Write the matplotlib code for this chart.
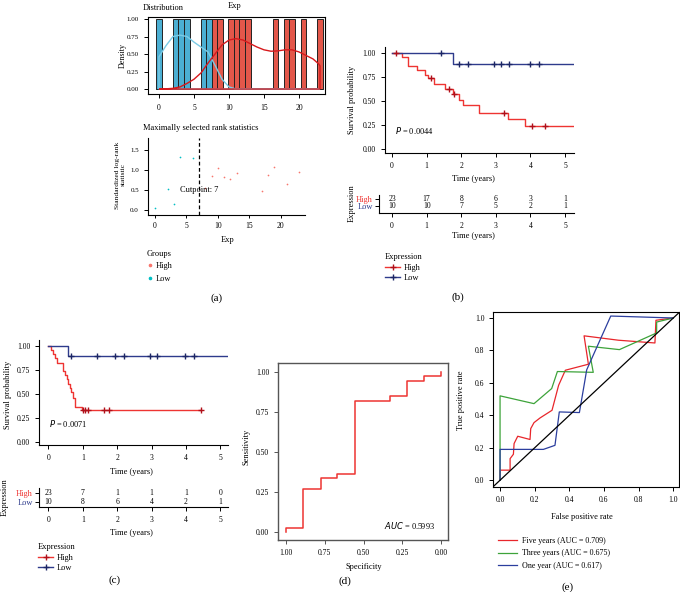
import numpy as np
import matplotlib
matplotlib.use('Agg')
import matplotlib.pyplot as plt
from matplotlib.lines import Line2D

plt.rcParams['font.family'] = ['Liberation Serif', 'DejaVu Serif']
plt.rcParams['axes.linewidth'] = 0.8
plt.rcParams['xtick.major.width'] = 0.7
plt.rcParams['ytick.major.width'] = 0.7
plt.rcParams['xtick.major.size'] = 2.5
plt.rcParams['ytick.major.size'] = 2.5
plt.rcParams['xtick.labelsize'] = 5.5
plt.rcParams['ytick.labelsize'] = 5.5
plt.rcParams['xtick.major.pad'] = 2.5
plt.rcParams['ytick.major.pad'] = 2.5

# ---------------- data ----------------
# (a) distribution / maxstat
exp_low = [0, 2, 3, 4, 6, 7]
exp_high = [8, 9, 10, 11, 12, 13, 17, 18, 19, 21, 23]
dens_x = [0, 1, 2, 3, 4, 5, 6, 7, 8, 9, 10, 11, 12, 13, 14, 15, 16, 17, 18, 19, 20, 21, 22, 22.8, 23]
dens_low = [0.46, 0.62, 0.75, 0.77, 0.75, 0.67, 0.60, 0.53, 0.34, 0.14, 0.03, 0.0, 0.0, 0.0, 0.0,
            0.0, 0.0, 0.0, 0.0, 0.0, 0.0, 0.0, 0.0, 0.0, 0.0]
dens_high = [0.0, 0.003, 0.01, 0.03, 0.08, 0.14, 0.23, 0.37, 0.50, 0.63, 0.70, 0.72, 0.70, 0.65, 0.60,
             0.56, 0.54, 0.545, 0.56, 0.56, 0.53, 0.48, 0.43, 0.36, 0.33]
stat_x_low = [0, 2, 3, 4, 6]
stat_y_low = [0.05, 0.52, 0.14, 1.33, 1.29]
stat_x_high = [8, 9, 10, 11, 12, 13, 17, 18, 19, 21, 23]
stat_y_high = [0.54, 0.85, 1.06, 0.82, 0.78, 0.93, 0.48, 0.88, 1.08, 0.65, 0.94]
cutpoint = 7

# (b) KM
b_high_t = [0.28, 0.47, 0.73, 0.94, 1.05, 1.21, 1.53, 1.75, 1.94, 2.04, 2.52, 3.34, 3.84]
b_high_s = [0.957, 0.867, 0.821, 0.775, 0.738, 0.680, 0.623, 0.578, 0.515, 0.455, 0.378, 0.316, 0.240]
b_high_cens = [0.13, 1.13, 1.66, 1.80, 3.24, 4.04, 4.43]
b_high_end = 5.26
b_low_t = [1.75]
b_low_s = [0.889]
b_low_cens = [1.43, 1.95, 2.20, 2.95, 3.16, 3.37, 3.99, 4.24]
b_low_end = 5.26
b_pval = "0.0044"
risk_times = [0, 1, 2, 3, 4, 5]
b_risk_high = [23, 17, 8, 6, 3, 1]
b_risk_low = [10, 10, 7, 5, 2, 1]

# (c) KM
c_high_t = [0.08, 0.13, 0.19, 0.24, 0.42, 0.48, 0.53, 0.58, 0.63, 0.67, 0.72, 0.77, 0.97]
c_high_s = [0.957, 0.913, 0.870, 0.826, 0.739, 0.696, 0.652, 0.609, 0.565, 0.522, 0.46, 0.37, 0.333]
c_high_cens = [1.00, 1.08, 1.15, 1.63, 1.76, 4.43]
c_high_end = 4.43
c_low_t = [0.58]
c_low_s = [0.90]
c_low_cens = [0.65, 1.41, 1.93, 2.21, 2.95, 3.16, 3.98, 4.23]
c_low_end = 5.22
c_pval = "0.0071"
c_risk_high = [23, 7, 1, 1, 1, 0]
c_risk_low = [10, 8, 6, 4, 2, 1]

# (d) ROC (specificity, sensitivity)
d_spec = [1.0, 1.0, 0.892, 0.772, 0.668, 0.552, 0.33, 0.22, 0.108, 0.0, 0.0]
d_sens = [0.0, 0.025, 0.268, 0.338, 0.365, 0.82, 0.85, 0.944, 0.973, 1.0, 1.0]
d_auc = "0.5993"

# (e) time-dependent ROC (FPR, TPR)
e5_fpr = [0, 0, 0.058, 0.058, 0.077, 0.081, 0.102, 0.173, 0.177, 0.196, 0.231, 0.30, 0.323, 0.338,
          0.377, 0.51, 0.485, 0.683, 0.894, 0.90, 1.0]
e5_tpr = [0, 0.062, 0.062, 0.133, 0.16, 0.226, 0.271, 0.251, 0.318, 0.355, 0.384, 0.431, 0.524, 0.585,
          0.678, 0.715, 0.89, 0.863, 0.846, 0.986, 1.0]
e3_fpr = [0, 0, 0.196, 0.298, 0.331, 0.538, 0.51, 0.689, 0.904, 0.904, 1.0]
e3_tpr = [0, 0.52, 0.472, 0.565, 0.67, 0.665, 0.826, 0.805, 0.908, 0.975, 1.0]
e1_fpr = [0, 0, 0.25, 0.317, 0.342, 0.458, 0.49, 0.50, 0.639, 1.0]
e1_tpr = [0, 0.19, 0.19, 0.215, 0.421, 0.417, 0.616, 0.68, 1.012, 1.0]
e_labels = ["Five years (AUC = 0.709)", "Three years (AUC = 0.675)", "One year (AUC = 0.617)"]

# ---------------- figure ----------------
W, H = 680, 592
fig = plt.figure(figsize=(W / 100, H / 100), dpi=100)


def add_ax(l, t, r, b):
    return fig.add_axes([l / W, 1 - b / H, (r - l) / W, (b - t) / H])


def ftext(x, y, s, **kw):
    kw.setdefault('ha', 'center')
    kw.setdefault('va', 'center')
    return fig.text(x / W, 1 - y / H, s, **kw)


def xlab(ax, s, x, y, size=6):
    ax.set_xlabel(s, ha='center', va='center', fontsize=size)
    ax.xaxis.set_label_coords(x / W, 1 - y / H, transform=fig.transFigure)


def ylab(ax, s, x, y, size=6, **kw):
    ax.set_ylabel(s, ha='center', va='center', fontsize=size, **kw)
    ax.yaxis.set_label_coords(x / W, 1 - y / H, transform=fig.transFigure)


RED = '#EE3432'
NAVY = '#2E3B8C'
RED_D = '#B0101A'
NAVY_D = '#1C2666'
GG_RED = '#F8766D'
GG_CYAN = '#00BFC4'

# ---- (a) top: distribution ----
ax = add_ax(148, 17, 325, 94)
w = 23 / 29
edges = np.arange(-w / 2, 23 + w, w)
ax.hist(exp_low, bins=edges, color='#4BAFD3', edgecolor='#222222', linewidth=0.7, zorder=2)
ax.hist(exp_high, bins=edges, color='#E3574A', edgecolor='#222222', linewidth=0.7, zorder=2)
ax.fill(list(dens_x) + [dens_x[-1], dens_x[0]], list(dens_low) + [0, 0], fill=False,
        edgecolor='#7CCBE6', linewidth=1.0, zorder=3)
ax.fill(list(dens_x) + [dens_x[-1], dens_x[0]], list(dens_high) + [0, 0], fill=False,
        edgecolor='#D7191C', linewidth=1.0, zorder=3)
ax.set_xlim(-1.571, 23.714)
ax.set_ylim(-0.071, 1.029)
ax.set_xticks([0, 5, 10, 15, 20])
ax.set_yticks([0, 0.25, 0.5, 0.75, 1.0])
ax.set_yticklabels(['0.00', '0.25', '0.50', '0.75', '1.00'])
ax.tick_params(axis='x', pad=4.5, length=3)
ax.tick_params(axis='y', pad=3.5, length=3, labelsize=5)
ylab(ax, 'Density', 123, 55, size=5.8)
ftext(143, 8, 'Distribution', ha='left', fontsize=6)
ftext(235, 6, 'Exp', fontsize=6)

# ---- (a) bottom: maxstat ----
ax = add_ax(148, 138, 305, 215)
ax.scatter(stat_x_high, stat_y_high, s=1.5, color=GG_RED, linewidths=0, zorder=3)
ax.scatter(stat_x_low, stat_y_low, s=1.5, color=GG_CYAN, linewidths=0, zorder=3)
ax.axvline(cutpoint, color='black', linestyle=(0, (3, 2)), linewidth=0.9)
ax.text(cutpoint, 0.5, 'Cutpoint: %d' % cutpoint, ha='center', va='center', fontsize=6)
ax.set_xlim(-1.12, 23.9)
ax.set_ylim(-0.125, 1.8)
ax.set_xticks([0, 5, 10, 15, 20])
ax.set_yticks([0, 0.5, 1.0, 1.5])
ax.tick_params(axis='y', pad=3.5, length=3, labelsize=5)
for s in ['top', 'right']:
    ax.spines[s].set_visible(False)
xlab(ax, 'Exp', 228, 240)
ylab(ax, 'Standardized log-rank\nstatistic', 120.5, 175, size=5.4, linespacing=1.0)
ftext(143, 128, 'Maximally selected rank statistics', ha='left', fontsize=6)
hA = Line2D([], [], linestyle='none', marker='o', markersize=1.6, color=GG_RED)
lA = Line2D([], [], linestyle='none', marker='o', markersize=1.6, color=GG_CYAN)
fig.legend([hA, lA], ['High', 'Low'], title='Groups', loc='upper left',
           bbox_to_anchor=(142 / W, 1 - 246 / H), frameon=False, fontsize=6, title_fontsize=6,
           handlelength=0.8, handletextpad=0.4, labelspacing=0.5, borderpad=0, alignment='left')
ftext(217, 298, '(a)', fontsize=8)


# ---- KM helper ----
def km_draw(ax, t, s, cens, t_end, color, mcolor):
    x = [0] + list(t) + [t_end]
    y = [1] + list(s) + [s[-1]]
    ax.step(x, y, where='post', color=color, linewidth=1.0, zorder=3)
    tt = np.array([0] + list(t))
    ss = np.array([1] + list(s))
    cy = ss[np.searchsorted(tt, np.array(cens), side='right') - 1]
    ax.plot(cens, cy, linestyle='none', marker='+', markersize=4, markeredgewidth=1.0,
            color=mcolor, zorder=4)


def km_axes(ax, xmin, xmax, ymin, ymax):
    ax.set_xlim(xmin, xmax)
    ax.set_ylim(ymin, ymax)
    ax.set_xticks([0, 1, 2, 3, 4, 5])
    ax.set_yticks([0, 0.25, 0.5, 0.75, 1.0])
    ax.set_yticklabels(['0.00', '0.25', '0.50', '0.75', '1.00'])
    for sp in ['top', 'right']:
        ax.spines[sp].set_visible(False)
    ax.tick_params(axis='both', length=3, pad=3.5)


def risk_draw(ax, hi, lo, xmin, xmax, ymin, ymax):
    for tm, n in zip(risk_times, hi):
        ax.text(tm, 2, str(n), ha='center', va='center', fontsize=5.5)
    for tm, n in zip(risk_times, lo):
        ax.text(tm, 1, str(n), ha='center', va='center', fontsize=5.5)
    ax.set_xlim(xmin, xmax)
    ax.set_ylim(ymin, ymax)
    ax.set_xticks([0, 1, 2, 3, 4, 5])
    ax.set_yticks([2, 1])
    ax.set_yticklabels(['High', 'Low'], fontsize=6)
    ax.get_yticklabels()[0].set_color(RED)
    ax.get_yticklabels()[1].set_color(NAVY)
    for sp in ['top', 'right']:
        ax.spines[sp].set_visible(False)
    ax.tick_params(axis='both', length=3, pad=3.5)
    ax.tick_params(axis='y', pad=1.5)


def km_legend(x, y):
    h1 = Line2D([], [], color=RED, marker='+', markersize=4, markeredgewidth=1.0,
                markeredgecolor=RED_D, linewidth=1.0)
    h2 = Line2D([], [], color=NAVY, marker='+', markersize=4, markeredgewidth=1.0,
                markeredgecolor=NAVY_D, linewidth=1.0)
    fig.legend([h1, h2], ['High', 'Low'], title='Expression', loc='upper left',
               bbox_to_anchor=(x / W, 1 - y / H), frameon=False, fontsize=6, title_fontsize=6,
               handlelength=1.8, handletextpad=0.4, labelspacing=0.3, borderpad=0, alignment='left')


# ---- (b) ----
ax = add_ax(385, 47, 574, 153)
km_draw(ax, b_high_t, b_high_s, b_high_cens, b_high_end, RED, RED_D)
km_draw(ax, b_low_t, b_low_s, b_low_cens, b_low_end, NAVY, NAVY_D)
km_axes(ax, -0.202, 5.26, -0.042, 1.066)
ax.text(0.09, 0.19, '$P$ = ' + b_pval, ha='left', va='center', fontsize=6)
xlab(ax, 'Time (years)', 473, 179)
ylab(ax, 'Survival probability', 352, 100)

ax = add_ax(379, 195, 574, 212.7)
risk_draw(ax, b_risk_high, b_risk_low, -0.376, 5.26, 0.173, 2.53)
xlab(ax, 'Time (years)', 473, 236)
ylab(ax, 'Expression', 352, 203)
km_legend(381, 249)
ftext(458, 297, '(b)', fontsize=8)

# ---- (c) ----
ax = add_ax(39.3, 340, 228, 445)
km_draw(ax, c_high_t, c_high_s, c_high_cens, c_high_end, RED, RED_D)
km_draw(ax, c_low_t, c_low_s, c_low_cens, c_low_end, NAVY, NAVY_D)
km_axes(ax, -0.262, 5.22, -0.028, 1.062)
ax.text(0.02, 0.2, '$P$ = ' + c_pval, ha='left', va='center', fontsize=6)
xlab(ax, 'Time (years)', 131.7, 472.3)
ylab(ax, 'Survival probability', 8, 395)

ax = add_ax(39.3, 488, 228, 506.7)
risk_draw(ax, c_risk_high, c_risk_low, -0.262, 5.22, 0.405, 2.63)
xlab(ax, 'Time (years)', 131.7, 532.7)
ylab(ax, 'Expression', 5, 497)
km_legend(34, 539)
ftext(115, 580, '(c)', fontsize=8)

# ---- (d) ----
ax = add_ax(278.3, 363.3, 448.3, 540)
ax.step(d_spec, d_sens, where='post', color=RED, linewidth=1.1)
ax.set_xlim(1.05, -0.047)
ax.set_ylim(-0.048, 1.052)
ax.set_xticks([1.0, 0.75, 0.5, 0.25, 0.0])
ax.set_xticklabels(['1.00', '0.75', '0.50', '0.25', '0.00'])
ax.set_yticks([0, 0.25, 0.5, 0.75, 1.0])
ax.set_yticklabels(['0.00', '0.25', '0.50', '0.75', '1.00'])
for sp in ax.spines.values():
    sp.set_color('#555555')
    sp.set_linewidth(1.0)
ax.tick_params(axis='both', length=3, pad=3.5, color='#555555')
ax.text(0.37, 0.045, '$AUC$ = ' + d_auc, ha='left', va='center', fontsize=6)
xlab(ax, 'Specificity', 364, 567.3)
ylab(ax, 'Sensitivity', 246.7, 447)
ftext(345, 581, '(d)', fontsize=8)

# ---- (e) ----
ax = add_ax(493.3, 311.5, 679, 486.7)
l5, = ax.plot(e5_fpr, e5_tpr, color='#E8262B', linewidth=0.9)
l3, = ax.plot(e3_fpr, e3_tpr, color='#3DA33A', linewidth=0.9)
l1, = ax.plot(e1_fpr, e1_tpr, color='#2B3E9E', linewidth=0.9)
ax.axline((0, 0), (1, 1), color='black', linewidth=0.9)
ax.set_xlim(-0.039, 1.033)
ax.set_ylim(-0.04, 1.04)
ax.set_xticks([0, 0.2, 0.4, 0.6, 0.8, 1.0])
ax.set_yticks([0, 0.2, 0.4, 0.6, 0.8, 1.0])
ax.tick_params(axis='both', length=3, pad=3.5)
xlab(ax, 'False positive rate', 581.7, 516.7)
ylab(ax, 'True positive rate', 461, 400)
fig.legend([l5, l3, l1], e_labels, loc='upper left', bbox_to_anchor=(494 / W, 1 - 533 / H),
           frameon=False, fontsize=5.8, handlelength=2.4, handletextpad=0.6, labelspacing=0.55,
           borderpad=0)
ftext(568, 587, '(e)', fontsize=8)

fig.savefig('out.png', dpi=100)
